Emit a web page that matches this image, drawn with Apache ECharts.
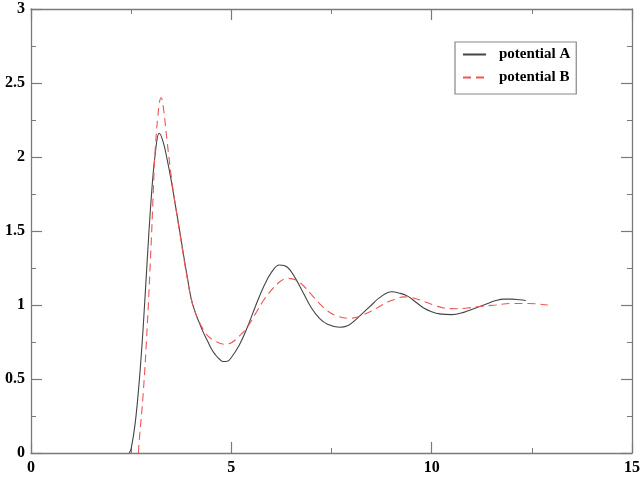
<!DOCTYPE html>
<html>
<head>
<meta charset="utf-8">
<script src="https://cdn.jsdelivr.net/npm/echarts@6/dist/echarts.min.js"></script>
<style>
  html, body { margin: 0; padding: 0; background: #fff; }
  #main { width: 643px; height: 493px; }
</style>
</head>
<body>
<div id="main"></div>
<script>
// data
const seriesNames = ['potential A', 'potential B'];

const rA = [2.45, 2.5, 2.6, 2.7, 2.8, 2.9, 3.0, 3.1, 3.2, 3.3, 3.4, 3.5, 3.6, 3.7, 3.8, 3.9, 4.0,
  4.1, 4.2, 4.3, 4.4, 4.5, 4.6, 4.7, 4.8, 4.9, 5.0, 5.2, 5.4, 5.6, 5.8, 6.0, 6.2, 6.4, 6.6, 6.8, 7.0, 7.2, 7.4, 7.7,
  7.9, 8.1, 8.3, 8.5, 8.7, 9.0, 9.2, 9.4, 9.6, 9.8, 10.0, 10.2, 10.5, 10.8, 11.0, 11.2, 11.4,
  11.6, 11.8, 12.0, 12.2, 12.35];
const gA = [0.0, 0.03, 0.2, 0.48, 0.85, 1.3, 1.72, 2.02, 2.16, 2.1, 1.98, 1.84, 1.68, 1.52, 1.35, 1.19, 1.04,
  0.95, 0.88, 0.815, 0.76, 0.705, 0.665, 0.635, 0.618, 0.62, 0.645, 0.73, 0.85, 0.99, 1.12, 1.22, 1.27, 1.255, 1.18, 1.08, 0.98, 0.91, 0.87, 0.85,
  0.86, 0.9, 0.95, 1.0, 1.05, 1.09, 1.08, 1.06, 1.02, 0.98, 0.955, 0.94, 0.935, 0.95, 0.97, 0.99, 1.01,
  1.03, 1.04, 1.04, 1.035, 1.03];

const rB = [2.68, 2.7, 2.8, 2.9, 3.0, 3.05, 3.1, 3.2, 3.25, 3.3, 3.4, 3.5, 3.6, 3.7, 3.8, 3.9, 4.0,
  4.1, 4.2, 4.3, 4.4, 4.6, 4.83, 5.0, 5.2, 5.4, 5.6, 5.8, 6.0, 6.2, 6.4, 6.6, 6.8, 7.0, 7.2, 7.4, 7.6, 7.9,
  8.1, 8.3, 8.5, 8.7, 8.9, 9.1, 9.3, 9.5, 9.7, 9.9, 10.1, 10.3, 10.6, 10.9, 11.2, 11.6,
  12.0, 12.4, 12.9];
const gB = [0.0, 0.08, 0.4, 0.85, 1.42, 1.75, 2.05, 2.36, 2.4, 2.34, 2.1, 1.87, 1.68, 1.51, 1.34, 1.18, 1.04,
  0.95, 0.885, 0.835, 0.795, 0.755, 0.735, 0.745, 0.79, 0.85, 0.94, 1.03, 1.1, 1.155, 1.18, 1.17, 1.13, 1.07, 1.01, 0.96, 0.93, 0.91,
  0.915, 0.935, 0.96, 0.99, 1.02, 1.04, 1.055, 1.05, 1.035, 1.015, 0.995, 0.98, 0.975, 0.98, 0.99, 1.0,
  1.01, 1.01, 1.0];

const xTicks = { min: 0, max: 15, interval: 5 };
const yTicks = { min: 0, max: 3, interval: 0.5 };

const zip = (xs, ys) => xs.map((x, i) => [x, ys[i]]);

const chart = echarts.init(document.getElementById('main'));

const font = 'Liberation Serif, Times New Roman, serif';
const axisGray = '#7a7a7a';

function axis(base, pos, showLabel) {
  return {
    type: 'value',
    position: pos,
    min: base.min, max: base.max, interval: base.interval,
    axisLine: { show: true, onZero: false, lineStyle: { color: axisGray, width: 1.3 } },
    axisTick: { show: true, inside: true, length: 11, lineStyle: { color: axisGray, width: 1.2 } },
    minorTick: { show: true, splitNumber: 2, length: 5, lineStyle: { color: axisGray } },
    splitLine: { show: false },
    axisLabel: {
      show: showLabel,
      color: '#000',
      fontFamily: font,
      fontSize: 16,
      fontWeight: 'bold',
      margin: pos === 'bottom' ? 7 : 6
    }
  };
}

const option = {
  animation: false,
  backgroundColor: '#fff',
  grid: { left: 31, right: 7, top: 9, bottom: 40 },
  legend: {
    orient: 'vertical',
    left: 455,
    top: 42,
    padding: [5, 6, 9, 7],
    itemGap: 8,
    itemWidth: 23,
    itemHeight: 14,
    borderColor: '#888',
    borderWidth: 1.2,
    borderRadius: 0,
    itemStyle: { opacity: 0 },
    textStyle: { fontFamily: font, fontSize: 15, fontWeight: 'bold', color: '#000', padding: [0, 0, 0, 8] },
    data: seriesNames
  },
  xAxis: [axis(xTicks, 'bottom', true), axis(xTicks, 'top', false)],
  yAxis: [axis(yTicks, 'left', true), axis(yTicks, 'right', false)],
  series: [
    {
      name: seriesNames[0],
      type: 'line',
      symbol: 'none',
      smooth: 0.4,
      data: zip(rA, gA),
      lineStyle: { color: '#444', width: 1.1 },
      itemStyle: { color: '#444' }
    },
    {
      name: seriesNames[1],
      type: 'line',
      symbol: 'none',
      smooth: 0.4,
      data: zip(rB, gB),
      lineStyle: { color: '#ee5555', width: 1.1, type: [8, 5] },
      itemStyle: { color: '#ee5555' }
    }
  ]
};

chart.setOption(option);
</script>
</body>
</html>
